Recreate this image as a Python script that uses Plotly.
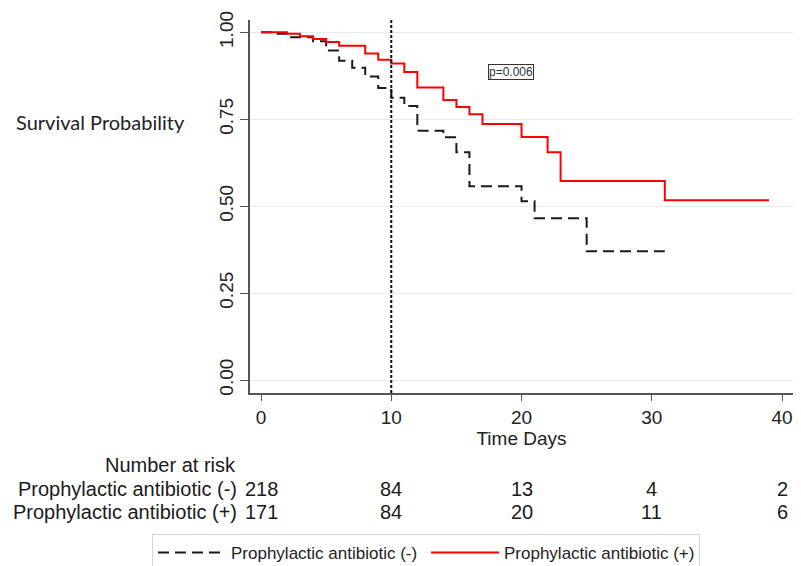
import plotly.graph_objects as go

# ---- data ----
t_neg = [0, 1, 2, 4, 5, 6, 7, 8, 9, 10, 11, 12, 14, 15, 16, 20, 21, 25, 31]
s_neg = [1.0, 0.996, 0.986, 0.974, 0.948, 0.918, 0.898, 0.873, 0.840, 0.812, 0.788,
         0.717, 0.698, 0.655, 0.557, 0.514, 0.465, 0.370, 0.370]

t_pos = [0, 2, 3, 4, 5, 6, 8, 9, 10, 11, 12, 14, 15, 16, 17, 20, 22, 23, 31, 39]
s_pos = [1.0, 0.996, 0.989, 0.981, 0.972, 0.961, 0.939, 0.921, 0.910, 0.886, 0.841,
         0.805, 0.785, 0.764, 0.736, 0.699, 0.655, 0.572, 0.517, 0.517]

group_names = ["Prophylactic antibiotic (-)", "Prophylactic antibiotic (+)"]
risk_times = [0, 10, 20, 30, 40]
risk_neg = [218, 84, 13, 4, 2]
risk_pos = [171, 84, 20, 11, 6]

y_ticks = [0, 0.25, 0.5, 0.75, 1.0]
y_ticktext = ["0.00", "0.25", "0.50", "0.75", "1.00"]
x_ticks = [0, 10, 20, 30, 40]
cut_time = 10
p_text = "p=0.006"
p_pos = (19.2, 0.886)

FONT = "Liberation Sans, Arial, sans-serif"
OFF = 8                      # default page body margin
W, H = 801 - 2 * OFF, 566 - OFF
ML, MR, MT = 250 - OFF, 0, 20 - OFF
MB = H - (393 - OFF)
PW, PH = W - ML - MR, H - MT - MB


def px_x(p):
    """page pixel x -> paper coordinate"""
    return (p - OFF - ML) / PW


def px_y(p):
    """page pixel y -> paper coordinate"""
    return (H - MB - (p - OFF)) / PH


fig = go.Figure()
fig.add_trace(go.Scatter(
    x=t_neg, y=s_neg, mode="lines", name=group_names[0],
    line=dict(shape="hv", color="#1a1a1a", width=2, dash="11px,6px")))
fig.add_trace(go.Scatter(
    x=t_pos, y=s_pos, mode="lines", name=group_names[1],
    line=dict(shape="hv", color="#ff0000", width=2)))

fig.add_vline(x=cut_time, line=dict(color="#111", width=2, dash="3px,2px"))

ann = []
ann.append(dict(x=p_pos[0], y=p_pos[1], xref="x", yref="y", text=p_text,
                showarrow=False, font=dict(family=FONT, size=12, color="#2a3442"),
                bordercolor="#333", borderwidth=1, borderpad=0, bgcolor="#ffffff"))
ann.append(dict(x=px_x(100), y=px_y(122), xref="paper", yref="paper",
                text="Survival Probability", showarrow=False,
                xanchor="center", yanchor="middle",
                font=dict(family="Lato, Noto Sans, sans-serif", size=20, color="#222")))
ann.append(dict(x=px_x(238), y=px_y(465), xref="paper", yref="paper",
                text="Number at risk", showarrow=False, xanchor="right", yanchor="middle",
                font=dict(family=FONT, size=20, color="#1a1a1a")))
for name, vals, ypix in [(group_names[0], risk_neg, 489), (group_names[1], risk_pos, 512)]:
    ann.append(dict(x=px_x(239), y=px_y(ypix), xref="paper", yref="paper",
                    text=name, showarrow=False, xanchor="right", yanchor="middle",
                    font=dict(family=FONT, size=20, color="#1a1a1a")))
    for t, v in zip(risk_times, vals):
        ann.append(dict(x=t, y=px_y(ypix), xref="x", yref="paper", text=str(v),
                        showarrow=False, xanchor="center", yanchor="middle",
                        font=dict(family=FONT, size=20, color="#1a1a1a")))

fig.update_layout(
    width=W, height=H, margin=dict(l=ML, r=MR, t=MT, b=MB, autoexpand=False),
    paper_bgcolor="white", plot_bgcolor="white",
    font=dict(family=FONT, color="#222"),
    annotations=ann,
    showlegend=True,
    legend=dict(orientation="h", x=px_x(152), y=px_y(534), xanchor="left", yanchor="top",
                bordercolor="#d6d6d6", borderwidth=1, bgcolor="white",
                font=dict(family=FONT, size=17, color="#222"),
                entrywidth=190, entrywidthmode="pixels", itemwidth=68),
    xaxis=dict(range=[-0.845, 40.84], tickvals=x_ticks, showgrid=False, zeroline=False,
               showline=True, linecolor="#555", linewidth=1.5, automargin=False,
               ticks="outside", ticklen=6, tickcolor="#555",
               tickfont=dict(size=19, color="#222"),
               title=dict(text="Time Days", font=dict(size=19, color="#222"), standoff=2)),
    yaxis=dict(range=[-0.0374, 1.0354], tickvals=y_ticks, ticktext=y_ticktext,
               tickangle=-90, showgrid=True, gridcolor="#e4ecf1", gridwidth=1,
               zeroline=False, showline=True, linecolor="#555", linewidth=1.5,
               automargin=False,
               ticks="outside", ticklen=8, tickcolor="#555",
               tickfont=dict(size=19, color="#222")),
)

fig.write_html("out.html")
